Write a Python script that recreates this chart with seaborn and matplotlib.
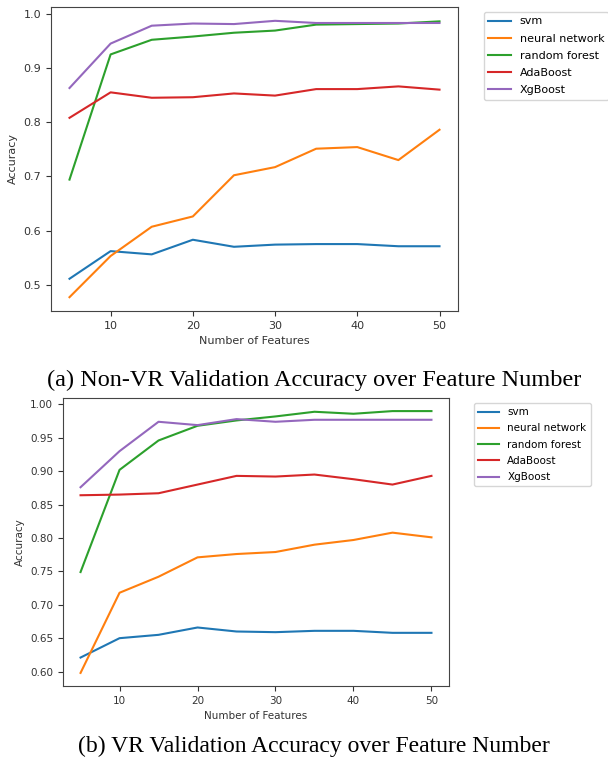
import matplotlib
matplotlib.use('Agg')
import matplotlib.pyplot as plt
import numpy as np
import pandas as pd
import seaborn as sns

features = [5, 10, 15, 20, 25, 30, 35, 40, 45, 50]
models = ['svm', 'neural network', 'random forest', 'AdaBoost', 'XgBoost']

# (a) Non-VR validation accuracy
nonvr_svm = [0.511, 0.562, 0.556, 0.583, 0.570, 0.574, 0.575, 0.575, 0.571, 0.571]
nonvr_nn = [0.477, 0.553, 0.607, 0.626, 0.702, 0.717, 0.751, 0.754, 0.730, 0.786]
nonvr_rf = [0.694, 0.925, 0.952, 0.958, 0.965, 0.969, 0.980, 0.981, 0.982, 0.986]
nonvr_ada = [0.808, 0.855, 0.845, 0.846, 0.853, 0.849, 0.861, 0.861, 0.866, 0.860]
nonvr_xgb = [0.863, 0.945, 0.978, 0.982, 0.981, 0.987, 0.983, 0.983, 0.983, 0.983]

# (b) VR validation accuracy
vr_svm = [0.621, 0.650, 0.655, 0.666, 0.660, 0.659, 0.661, 0.661, 0.658, 0.658]
vr_nn = [0.598, 0.718, 0.742, 0.771, 0.776, 0.779, 0.790, 0.797, 0.808, 0.801]
vr_rf = [0.749, 0.902, 0.946, 0.968, 0.976, 0.982, 0.989, 0.986, 0.990, 0.990]
vr_ada = [0.864, 0.865, 0.867, 0.880, 0.893, 0.892, 0.895, 0.888, 0.880, 0.893]
vr_xgb = [0.876, 0.930, 0.974, 0.969, 0.978, 0.974, 0.977, 0.977, 0.977, 0.977]


def long_frame(series):
    rows = []
    for name, vals in zip(models, series):
        for f, v in zip(features, vals):
            rows.append({'Number of Features': f, 'Accuracy': v, 'model': name})
    return pd.DataFrame(rows)


W, H = 608, 763
fig = plt.figure(figsize=(W / 100, H / 100), dpi=100)


def px_axes(l, t, r, b):
    return fig.add_axes([l / W, 1 - b / H, (r - l) / W, (b - t) / H])


def draw(ax, df, fs, leg_xy, spacing):
    sns.lineplot(data=df, x='Number of Features', y='Accuracy', hue='model',
                 hue_order=models, palette='tab10', ax=ax, linewidth=1.5)
    ax.set_xlabel('Number of Features', fontsize=fs, color='#333333')
    ax.set_ylabel('Accuracy', fontsize=fs, color='#333333')
    ax.tick_params(labelsize=fs, colors='#333333')
    for s in ax.spines.values():
        s.set_color('#444444')
    ax.set_xticks([10, 20, 30, 40, 50])
    handles, labels = ax.get_legend_handles_labels()
    ax.legend(handles, labels, loc='upper left', fontsize=fs,
              bbox_to_anchor=(leg_xy[0] / W, 1 - leg_xy[1] / H),
              bbox_transform=fig.transFigure, borderaxespad=0,
              handlelength=2.0, labelspacing=spacing)


ax1 = px_axes(51, 7, 458, 311)
draw(ax1, long_frame([nonvr_svm, nonvr_nn, nonvr_rf, nonvr_ada, nonvr_xgb]), 8, (484, 12), 0.65)
ax1.set_yticks([0.5, 0.6, 0.7, 0.8, 0.9, 1.0])

ax2 = px_axes(63, 398, 449, 686)
draw(ax2, long_frame([vr_svm, vr_nn, vr_rf, vr_ada, vr_xgb]), 7.5, (474, 403), 0.6)
ax2.set_yticks(np.arange(0.60, 1.001, 0.05))

cap = dict(family=['Liberation Serif', 'DejaVu Serif'], ha='center', va='center')
fig.text(314 / W, 1 - 380 / H, '(a) Non-VR Validation Accuracy over Feature Number',
         fontsize=17.5, **cap)
fig.text(314 / W, 1 - 746 / H, '(b) VR Validation Accuracy over Feature Number',
         fontsize=17, **cap)

fig.savefig('out.png', dpi=100)
